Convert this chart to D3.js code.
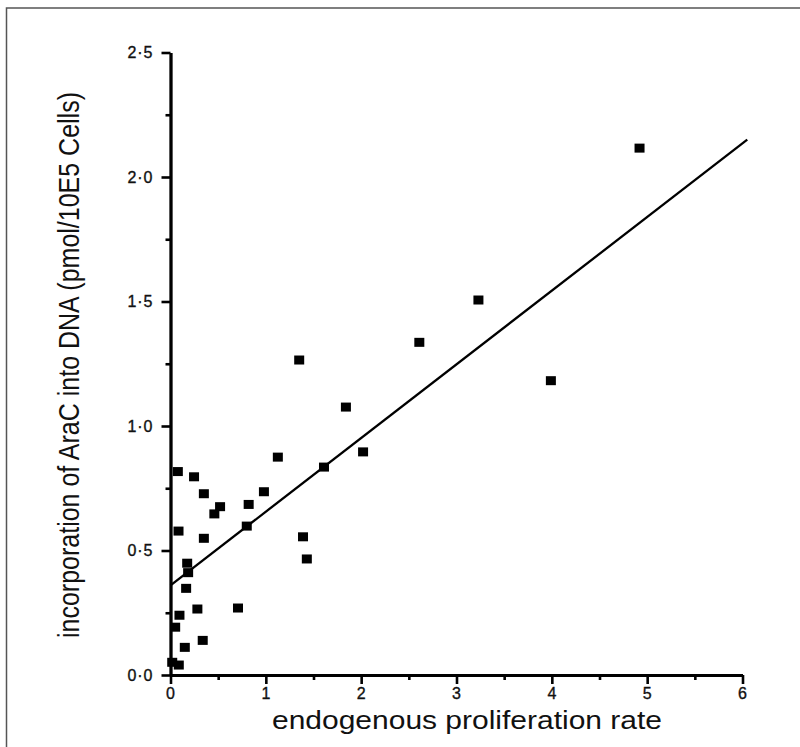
<!DOCTYPE html>
<html>
<head>
    <title>AraC incorporation vs proliferation</title>
</head>
<body>
<style type="text/css">
    body {
        margin: 0;
        background: #fff;
    }

    #renderer {
        width: 800px;
        height: 747px;
        background: #FFF;
        display: block;
    }
</style>
<script type="text/javascript" src="https://cdnjs.cloudflare.com/ajax/libs/d3/7.8.5/d3.min.js"></script>
<svg id='renderer'></svg>

<script type="text/javascript">
    // data
    var proliferation = [4.92, 3.23, 2.61, 3.99, 1.35, 1.84, 2.02, 1.61, 1.126, 0.077,
        0.247, 0.35, 0.98, 0.52, 0.46, 0.82, 0.80, 0.084, 0.35, 0.175,
        0.185, 0.164, 0.282, 0.708, 0.094, 0.049, 0.338, 0.15, 0.018, 0.087,
        1.39, 1.43];
    var incorporation = [2.116, 1.506, 1.336, 1.182, 1.265, 1.076, 0.896, 0.835, 0.875, 0.817,
        0.796, 0.728, 0.736, 0.676, 0.647, 0.685, 0.598, 0.578, 0.549, 0.449,
        0.411, 0.348, 0.265, 0.269, 0.24, 0.192, 0.139, 0.111, 0.051, 0.04,
        0.555, 0.466];

    // regression line end points
    var fitX = [0, 6.05];
    var fitY = [0.36, 2.15];

    var xTicks = [0, 1, 2, 3, 4, 5, 6];
    var xMinorTicks = [0.5, 1.5, 2.5, 3.5, 4.5, 5.5];
    var yTicks = [0, 0.5, 1.0, 1.5, 2.0, 2.5];
    var yMinorTicks = [0.25, 0.75, 1.25, 1.75, 2.25];

    var root = d3.select('#renderer');

    var fontFamily = '"Liberation Sans", Arial, Helvetica, sans-serif';

    // frame around the figure (runs off the right and bottom edges)
    root.append('rect')
        .attr('x', 6.5)
        .attr('y', 8)
        .attr('width', 900)
        .attr('height', 900)
        .attr('fill', 'none')
        .attr('stroke', '#555')
        .attr('stroke-width', 1.5);

    var xScale = d3.scaleLinear().domain([0, 6]).range([170.5, 742.5]);
    var yScale = d3.scaleLinear().domain([0, 2.5]).range([675, 52.5]);

    function dotFormat(v) {
        return d3.format('.1f')(v).replace('.', '\u00b7');
    }

    // minor ticks first, then the major ones with labels
    var xAxisG = root.append('g').attr('transform', 'translate(0,' + yScale(0) + ')');
    xAxisG.append('g')
        .call(d3.axisBottom(xScale).tickValues(xMinorTicks).tickSize(5).tickSizeOuter(0).tickFormat(''));
    xAxisG.append('g')
        .call(d3.axisBottom(xScale).tickValues(xTicks).tickSize(9).tickSizeOuter(0).tickPadding(4).tickFormat(d3.format('d')));

    var yAxisG = root.append('g').attr('transform', 'translate(' + xScale(0) + ',0)');
    yAxisG.append('g')
        .call(d3.axisLeft(yScale).tickValues(yMinorTicks).tickSize(5).tickSizeOuter(0).tickFormat(''));
    yAxisG.append('g')
        .call(d3.axisLeft(yScale).tickValues(yTicks).tickSize(9).tickSizeOuter(0).tickPadding(8).tickFormat(dotFormat));

    root.selectAll('.domain')
        .attr('stroke', '#000')
        .attr('stroke-width', 2.8);
    root.selectAll('.tick line')
        .attr('stroke', '#000')
        .attr('stroke-width', 2.6);
    root.selectAll('.tick text')
        .attr('font-family', fontFamily)
        .attr('font-size', 16)
        .attr('fill', '#111')
        .attr('stroke', '#111')
        .attr('stroke-width', 0.35)
        .attr('letter-spacing', 1);

    // regression line
    var line = d3.line()
        .x(function (d) { return xScale(d[0]); })
        .y(function (d) { return yScale(d[1]); });
    root.append('path')
        .datum(d3.zip(fitX, fitY))
        .attr('d', line)
        .attr('fill', 'none')
        .attr('stroke', '#000')
        .attr('stroke-width', 2.3);

    // data points as filled squares
    var markW = 10;
    var markH = 9;
    root.selectAll('rect.point')
        .data(d3.zip(proliferation, incorporation))
        .enter()
        .append('rect')
        .attr('class', 'point')
        .attr('x', function (d) { return xScale(d[0]) - markW / 2; })
        .attr('y', function (d) { return yScale(d[1]) - markH / 2; })
        .attr('width', markW)
        .attr('height', markH)
        .attr('fill', '#000');

    // axis titles
    root.append('text')
        .text('endogenous proliferation rate')
        .attr('x', 467)
        .attr('y', 729)
        .attr('font-family', fontFamily)
        .attr('font-size', 25)
        .attr('textLength', 390)
        .attr('lengthAdjust', 'spacingAndGlyphs')
        .attr('text-anchor', 'middle')
        .attr('fill', '#111');

    root.append('text')
        .text('incorporation of AraC into DNA (pmol/10E5 Cells)')
        .attr('transform', 'translate(79,365) scale(1.2,1) rotate(-90)')
        .attr('font-family', fontFamily)
        .attr('font-size', 25)
        .attr('text-anchor', 'middle')
        .attr('fill', '#111');
</script>
</body>
</html>
